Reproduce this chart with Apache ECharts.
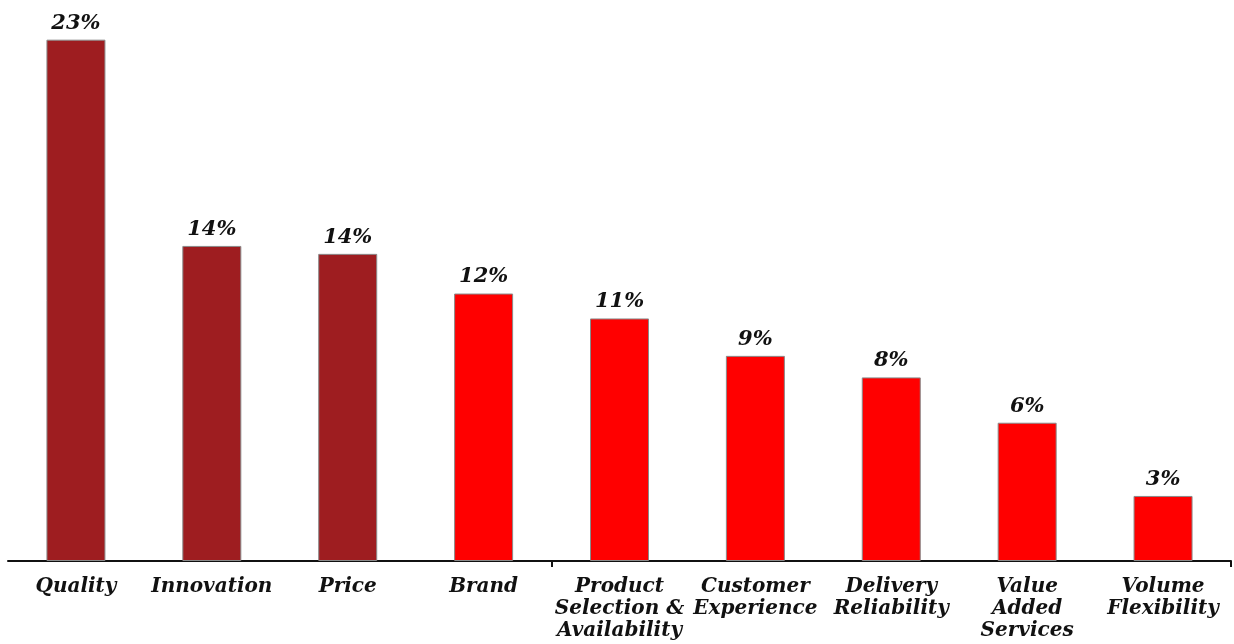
<!DOCTYPE html>
<html>
<head>
<meta charset="utf-8">
<script src="https://cdn.jsdelivr.net/npm/echarts@6/dist/echarts.min.js"></script>
<style>
  html, body { margin: 0; padding: 0; background: #fff; }
  #chart { width: 1234px; height: 644px; }
</style>
</head>
<body>
<div id="chart"></div>
<script>
// Purchase drivers, share of respondents (%)
const categories = [
  'Quality', 'Innovation', 'Price', 'Brand',
  'Product\nSelection &\nAvailability', 'Customer\nExperience',
  'Delivery\nReliability', 'Value\nAdded\nServices', 'Volume\nFlexibility'
];
const shares = [23, 13.9, 13.55, 11.8, 10.7, 9.05, 8.1, 6.1, 2.87];
// first three drivers are highlighted in dark red
const topGroupSize = 3;
// divider tick between the two groups of drivers, plus the closing tick at the axis end
const dividerTicks = [4, categories.length];

const darkRed = '#9E1D20';
const brightRed = '#FF0000';
const serif = '"DejaVu Serif", "Liberation Serif", serif';

const chart = echarts.init(document.getElementById('chart'), null, { renderer: 'canvas' });

chart.setOption({
  animation: false,
  grid: { left: 8, right: 3, top: 17, bottom: 83, containLabel: false },
  xAxis: [{
    type: 'category',
    position: 'bottom',
    data: categories,
    boundaryGap: true,
    axisLine: { show: true, lineStyle: { color: '#111', width: 2 } },
    axisTick: { show: false },
    axisLabel: {
      interval: 0,
      margin: 15,
      color: '#111',
      fontFamily: serif,
      fontStyle: 'italic',
      fontWeight: 'bold',
      fontSize: 20,
      lineHeight: 22
    }
  }, {
    // slot-index scale used only to place the divider ticks on category boundaries
    type: 'value',
    position: 'bottom',
    min: 0,
    max: categories.length,
    axisLine: { show: false },
    axisLabel: { show: false },
    splitLine: { show: false },
    axisTick: {
      show: true,
      length: 6,
      customValues: dividerTicks,
      lineStyle: { color: '#111', width: 2 }
    }
  }],
  yAxis: {
    type: 'value',
    min: 0,
    max: 24,
    show: false,
    splitLine: { show: false }
  },
  series: [{
    type: 'bar',
    xAxisIndex: 0,
    data: shares.map((v, i) => ({
      value: v,
      itemStyle: { color: i < topGroupSize ? darkRed : brightRed }
    })),
    barWidth: 59,
    itemStyle: { borderColor: '#8a8a8a', borderWidth: 1 },
    label: {
      show: true,
      position: 'top',
      distance: 6,
      formatter: (p) => Math.round(p.value) + '%',
      color: '#111',
      fontFamily: serif,
      fontStyle: 'italic',
      fontWeight: 'bold',
      fontSize: 21
    }
  }]
});
</script>
</body>
</html>
